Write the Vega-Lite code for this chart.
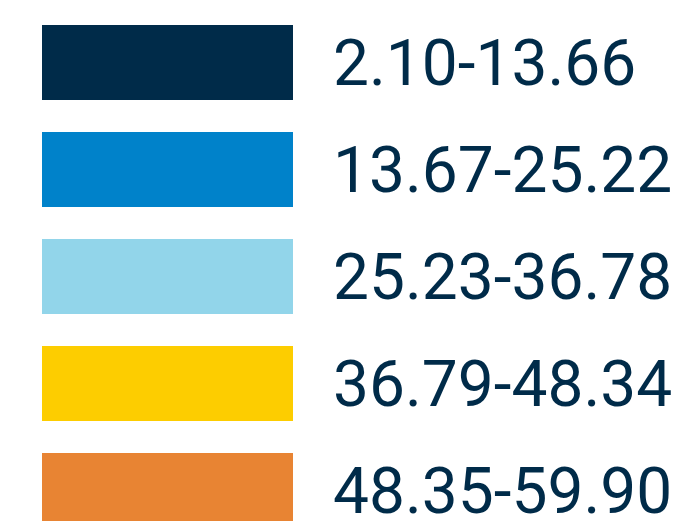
{
  "$schema": "https://vega.github.io/schema/vega-lite/v6.json",
  "width": 680,
  "height": 553,
  "padding": 0,
  "autosize": "none",
  "background": "white",
  "config": {"view": {"stroke": null}},
  "data": {
    "values": [
      {"label": "2.10-13.66", "color": "#002b49", "order": 1},
      {"label": "13.67-25.22", "color": "#0082ca", "order": 2},
      {"label": "25.23-36.78", "color": "#92d5ea", "order": 3},
      {"label": "36.79-48.34", "color": "#fdcd00", "order": 4},
      {"label": "48.35-59.90", "color": "#e88433", "order": 5}
    ]
  },
  "encoding": {
    "y": {
      "field": "label",
      "type": "nominal",
      "sort": {"field": "order"},
      "axis": null,
      "scale": {"paddingInner": 0.299, "paddingOuter": 0.2336}
    }
  },
  "layer": [
    {
      "mark": {"type": "rect"},
      "encoding": {
        "x": {"datum": 42, "type": "quantitative", "scale": {"domain": [0, 680], "nice": false, "zero": false}, "axis": null},
        "x2": {"datum": 293},
        "color": {"field": "color", "type": "nominal", "scale": null, "legend": null}
      }
    },
    {
      "mark": {"type": "text", "align": "left", "baseline": "alphabetic", "dy": 22.5, "font": "Roboto", "fontSize": 64, "color": "#002b49"},
      "encoding": {
        "x": {"datum": 333, "type": "quantitative"},
        "text": {"field": "label"}
      }
    }
  ]
}
